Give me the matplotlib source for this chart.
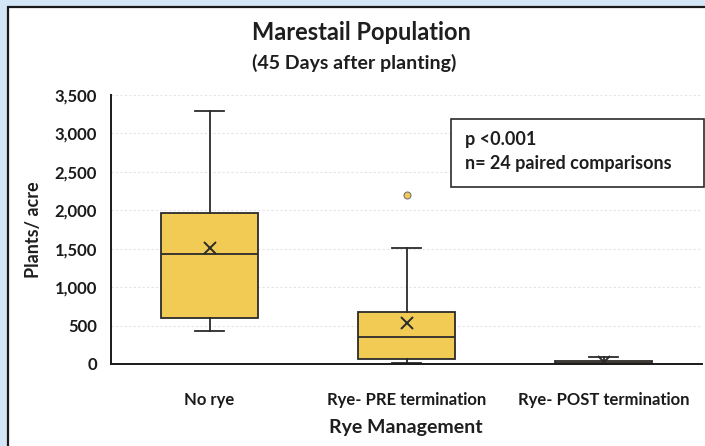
import matplotlib
matplotlib.use("Agg")
import matplotlib.pyplot as plt
from matplotlib.patches import Rectangle

plt.rcParams['font.family'] = ['Lato', 'DejaVu Sans']

categories = ["No rye", "Rye- PRE termination", "Rye- POST termination"]
whislo = [430, 8, 0]
q1 = [605, 65, 0]
med = [1430, 355, 15]
q3 = [1965, 680, 45]
whishi = [3290, 1515, 85]
means = [1505, 530, 20]
fliers = [[], [2200], []]
yticks = [0, 500, 1000, 1500, 2000, 2500, 3000, 3500]
ytick_labels = ["0", "500", "1,000", "1,500", "2,000", "2,500", "3,000", "3,500"]

W, H = 705, 446
fig = plt.figure(figsize=(W / 100, H / 100), dpi=100)
fig.patch.set_facecolor('#d3e7f7')
# white chart area with black frame
frame = Rectangle((8 / W, -0.01), 1.0, 1 - 7 / H + 0.01, transform=fig.transFigure,
                  facecolor='white', edgecolor='#1a1a1a', linewidth=1.6, zorder=-10)
fig.add_artist(frame)

ax = fig.add_axes([111 / W, 1 - 364 / H, 591 / W, 269 / H])
ax.set_facecolor('none')
ax.set_zorder(1)

stats = []
for i, c in enumerate(categories):
    stats.append(dict(label=c, whislo=whislo[i], q1=q1[i], med=med[i], q3=q3[i],
                      whishi=whishi[i], fliers=fliers[i], mean=means[i]))

ax.bxp(stats, positions=range(len(categories)), widths=0.49, capwidths=0.145,
       patch_artist=True, showmeans=True, showfliers=True,
       boxprops=dict(facecolor='#f2cb55', edgecolor='#2b2b2b', linewidth=1.3),
       medianprops=dict(color='#2b2b2b', linewidth=1.3),
       whiskerprops=dict(color='#2b2b2b', linewidth=1.3),
       capprops=dict(color='#2b2b2b', linewidth=1.3),
       meanprops=dict(marker='x', markeredgecolor='#2b2b2b', markersize=9, markeredgewidth=1.4),
       flierprops=dict(marker='o', markerfacecolor='#f2cb55', markeredgecolor='#777777',
                       markersize=5, markeredgewidth=0.8))

ax.set_xlim(-0.5, 2.5)
ax.set_ylim(0, 3500)
ax.set_yticks(yticks)
ax.set_yticklabels(ytick_labels)
ax.set_xticks(range(len(categories)))
ax.set_xticklabels(categories)
ax.tick_params(axis='both', length=0, labelsize=12, colors='#1a1a1a')
ax.tick_params(axis='y', pad=10)
ax.tick_params(axis='x', pad=20)
for lab in ax.get_xticklabels() + ax.get_yticklabels():
    lab.set_fontweight('bold')
ax.grid(axis='y', color='#e4e4e4', linewidth=0.8, linestyle=(0, (2, 2)))
ax.set_axisbelow(True)
for s in ['top', 'right']:
    ax.spines[s].set_visible(False)
for s in ['left', 'bottom']:
    ax.spines[s].set_color('#1a1a1a')
    ax.spines[s].set_linewidth(1.4)

fig.text(361 / W, 1 - 33 / H, "Marestail Population", ha='center', va='center',
         fontsize=17, fontweight='bold', color='#1e1e1e')
fig.text(354 / W, 1 - 63 / H, "(45 Days after planting)", ha='center', va='center',
         fontsize=14, fontweight='bold', color='#1e1e1e')
fig.text(33 / W, 1 - 230 / H, "Plants/ acre", ha='center', va='center', rotation=90,
         fontsize=13, fontweight='bold', color='#1e1e1e')
fig.text(406 / W, 1 - 427 / H, "Rye Management", ha='center', va='center',
         fontsize=14, fontweight='bold', color='#1e1e1e')

# annotation box
fig.add_artist(Rectangle((451 / W, 1 - 187 / H), 253 / W, 68 / H, transform=fig.transFigure,
                         facecolor='white', edgecolor='#2b2b2b', linewidth=1.2, zorder=3))
fig.text(465 / W, 1 - 139 / H, "p <0.001", ha='left', va='center', fontsize=13,
         fontweight='bold', color='#1e1e1e', zorder=4)
fig.text(465 / W, 1 - 163 / H, "n= 24 paired comparisons", ha='left', va='center', fontsize=13,
         fontweight='bold', color='#1e1e1e', zorder=4)

fig.savefig("out.png", dpi=100, facecolor=fig.get_facecolor())
